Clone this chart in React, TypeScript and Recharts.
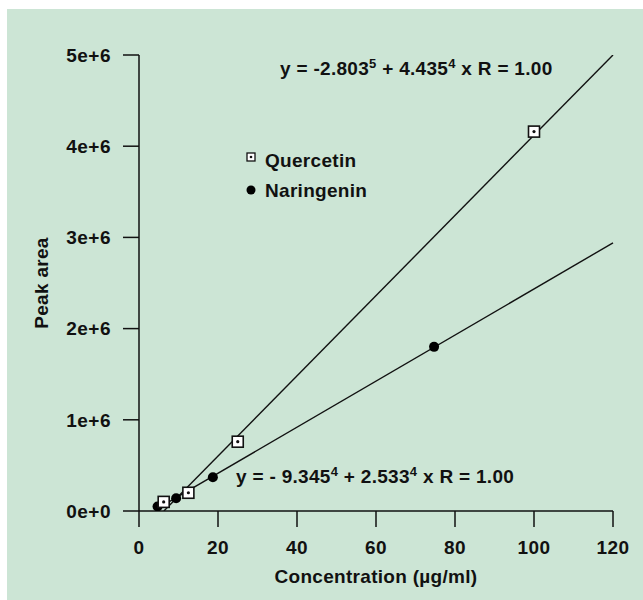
import { ScatterChart, Scatter, XAxis, YAxis } from 'recharts'

// concentrations (µg/ml) and peak areas
const quercetinConc = [6.25, 12.5, 25, 100]
const quercetinArea = [1.0e5, 2.0e5, 7.6e5, 4.16e6]
const naringeninConc = [4.7, 9.4, 18.7, 74.7]
const naringeninArea = [5.0e4, 1.4e5, 3.7e5, 1.8e6]

// fitted lines, end points
const quercetinFitConc = [6.3, 120]
const quercetinFitArea = [0, 5.0e6]
const naringeninFitConc = [4.2, 120]
const naringeninFitArea = [1.5e4, 2.94e6]

const xTicks = [0, 20, 40, 60, 80, 100, 120]
const yTicks = [0, 1e6, 2e6, 3e6, 4e6, 5e6]

const pairs = (xs: number[], ys: number[]) => xs.map((x, i) => ({ x, y: ys[i] }))

const quercetin = pairs(quercetinConc, quercetinArea)
const naringenin = pairs(naringeninConc, naringeninArea)
const quercetinFit = pairs(quercetinFitConc, quercetinFitArea)
const naringeninFit = pairs(naringeninFitConc, naringeninFitArea)

const FONT = '"Liberation Sans", Arial, sans-serif'
const BG = '#cce5d5'

const tickStyle = { fontSize: 19, fontWeight: 700, fill: '#111', fontFamily: FONT, letterSpacing: 0.5 }

function SquareDot({ cx, cy }: any) {
  if (cx == null || cy == null) return null
  return (
    <g>
      <rect x={cx - 5.5} y={cy - 5.5} width={11} height={11} fill="#fff" stroke="#111" strokeWidth={1.6} />
      <circle cx={cx} cy={cy} r={1.6} fill="#111" />
    </g>
  )
}

function RoundDot({ cx, cy }: any) {
  if (cx == null || cy == null) return null
  return <circle cx={cx} cy={cy} r={5} fill="#000" />
}

const NoDot = () => <g />

function Sup({ children }: { children: string }) {
  return <span style={{ position: 'relative', top: -7, fontSize: 13 }}>{children}</span>
}

export default function App() {
  const textBase: React.CSSProperties = {
    position: 'absolute',
    fontFamily: FONT,
    fontWeight: 700,
    fontSize: 19,
    lineHeight: '19px',
    color: '#111',
    whiteSpace: 'nowrap',
    letterSpacing: 0.3,
  }
  return (
    <div style={{ position: 'fixed', left: 0, top: 0, width: '100vw', height: '100vh', background: BG, overflow: 'hidden' }}>
      <div style={{ position: 'absolute', left: 0, top: 0, width: '100%', height: 9, background: '#fff' }} />
      <div style={{ position: 'absolute', left: 0, top: 0, width: 7, height: '100%', background: '#fff' }} />
      <div style={{ position: 'absolute', left: 0, top: 0 }}>
        <ScatterChart width={643} height={600} margin={{ top: 55, right: 30, bottom: 0, left: 0 }}>
          <XAxis
            type="number"
            dataKey="x"
            domain={[0, 120]}
            ticks={xTicks}
            tickSize={16}
            tickMargin={14}
            tick={tickStyle}
            stroke="#111"
            strokeWidth={1.5}
            height={89}
            label={{
              value: 'Concentration (µg/ml)',
              position: 'insideBottom',
              offset: 17,
              style: { fontSize: 19, fontWeight: 700, fill: '#111', fontFamily: FONT, letterSpacing: 0.3 },
            }}
          />
          <YAxis
            type="number"
            dataKey="y"
            domain={[0, 5e6]}
            ticks={yTicks}
            allowDataOverflow
            tickSize={16}
            tickMargin={12}
            tick={tickStyle}
            tickFormatter={(v: number) => (v === 0 ? '0e+0' : `${v / 1e6}e+6`)}
            stroke="#111"
            strokeWidth={1.5}
            width={139}
            label={{
              value: 'Peak area',
              angle: -90,
              position: 'insideLeft',
              offset: 41,
              style: { fontSize: 19, fontWeight: 700, fill: '#111', fontFamily: FONT, textAnchor: 'middle', letterSpacing: 0.3 },
            }}
          />
          <Scatter data={quercetinFit} line={{ stroke: '#111', strokeWidth: 1.4 }} shape={NoDot} isAnimationActive={false} />
          <Scatter data={naringeninFit} line={{ stroke: '#111', strokeWidth: 1.4 }} shape={NoDot} isAnimationActive={false} />
          <Scatter name="Naringenin" data={naringenin} shape={RoundDot} isAnimationActive={false} />
          <Scatter name="Quercetin" data={quercetin} shape={SquareDot} isAnimationActive={false} />
        </ScatterChart>
      </div>

      {/* legend */}
      <svg style={{ position: 'absolute', left: 0, top: 0 }} width={643} height={600} pointerEvents="none">
        <rect x={247} y={153} width={8} height={8} fill="#fff" stroke="#111" strokeWidth={1.3} />
        <circle cx={251} cy={157} r={1.3} fill="#111" />
        <circle cx={251} cy={190} r={4.5} fill="#000" />
      </svg>
      <div style={{ ...textBase, left: 265, top: 151 }}>Quercetin</div>
      <div style={{ ...textBase, left: 265, top: 181 }}>Naringenin</div>

      {/* regression equations */}
      <div style={{ ...textBase, left: 280, top: 59 }}>
        y = -2.803<Sup>5</Sup> + 4.435<Sup>4</Sup> x R = 1.00
      </div>
      <div style={{ ...textBase, left: 236, top: 467 }}>
        y = - 9.345<Sup>4</Sup> + 2.533<Sup>4</Sup> x R = 1.00
      </div>
    </div>
  )
}
